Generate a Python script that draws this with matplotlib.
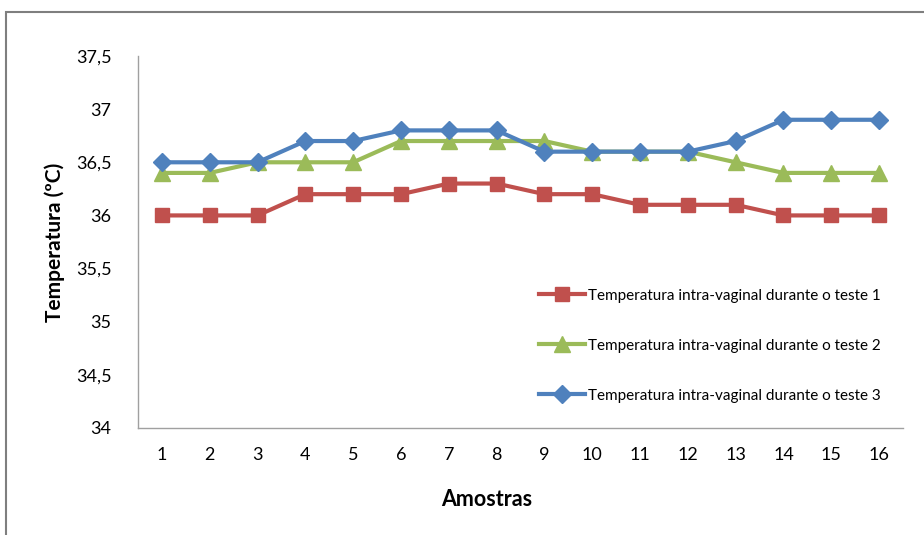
import matplotlib.pyplot as plt
from matplotlib.patches import Rectangle
from matplotlib.ticker import FuncFormatter

plt.rcParams['font.family'] = ['Lato', 'DejaVu Sans']

# Data
amostras = list(range(1, 17))
teste1 = [36.0, 36.0, 36.0, 36.2, 36.2, 36.2, 36.3, 36.3, 36.2, 36.2, 36.1, 36.1, 36.1, 36.0, 36.0, 36.0]
teste2 = [36.4, 36.4, 36.5, 36.5, 36.5, 36.7, 36.7, 36.7, 36.7, 36.6, 36.6, 36.6, 36.5, 36.4, 36.4, 36.4]
teste3 = [36.5, 36.5, 36.5, 36.7, 36.7, 36.8, 36.8, 36.8, 36.6, 36.6, 36.6, 36.6, 36.7, 36.9, 36.9, 36.9]
labels = ['Temperatura intra-vaginal durante o teste 1',
          'Temperatura intra-vaginal durante o teste 2',
          'Temperatura intra-vaginal durante o teste 3']

fig = plt.figure(figsize=(9.24, 5.35), dpi=100)

# outer frame of the chart area (only left/top visible, like the screenshot crop)
fig.patches.append(Rectangle((6 / 924, -0.1), 1.2, 1 - 12 / 535 + 0.1,
                             transform=fig.transFigure, fill=False,
                             edgecolor='#7f7f7f', linewidth=1.5))

ax = fig.add_axes([138 / 924, 1 - 428 / 535, (903 - 138) / 924, (428 - 56) / 535])

ax.plot(amostras, teste1, color='#C0504D', marker='s', markersize=10, linewidth=3, label=labels[0])
ax.plot(amostras, teste2, color='#9BBB59', marker='^', markersize=11, linewidth=3, label=labels[1])
ax.plot(amostras, teste3, color='#4F81BD', marker='D', markersize=9, linewidth=3, label=labels[2])

ax.set_xlim(0.5, 16.5)
ax.set_ylim(34, 37.5)
ax.set_xticks(amostras)
ax.set_yticks([34, 34.5, 35, 35.5, 36, 36.5, 37, 37.5])
ax.yaxis.set_major_formatter(FuncFormatter(lambda v, p: f'{v:g}'.replace('.', ',')))
ax.tick_params(axis='both', length=0, labelsize=13, colors='#000000', pad=14)
ax.tick_params(axis='y', pad=19)

for s in ['top', 'right']:
    ax.spines[s].set_visible(False)
for s in ['left', 'bottom']:
    ax.spines[s].set_color('#a0a0a0')
    ax.spines[s].set_linewidth(1)

ax.set_xlabel('Amostras', fontsize=15.5, fontweight='bold')
ax.xaxis.set_label_coords((487 - 138) / (903 - 138), -(500 - 428) / (428 - 56), transform=ax.transAxes)
ax.xaxis.label.set_verticalalignment('center')
ax.set_ylabel('Temperatura (ºC)', fontsize=15, fontweight='bold')
ax.yaxis.set_label_coords(-(138 - 55) / (903 - 138), 0.5, transform=ax.transAxes)
ax.yaxis.label.set_verticalalignment('center')

ax.legend(loc='upper left', bbox_to_anchor=(525 / 924, 1 - 275 / 535),
          bbox_transform=fig.transFigure, frameon=False, fontsize=11,
          labelspacing=2.35, handlelength=3.0, handletextpad=0.25)

fig.savefig('out.png', dpi=100)
